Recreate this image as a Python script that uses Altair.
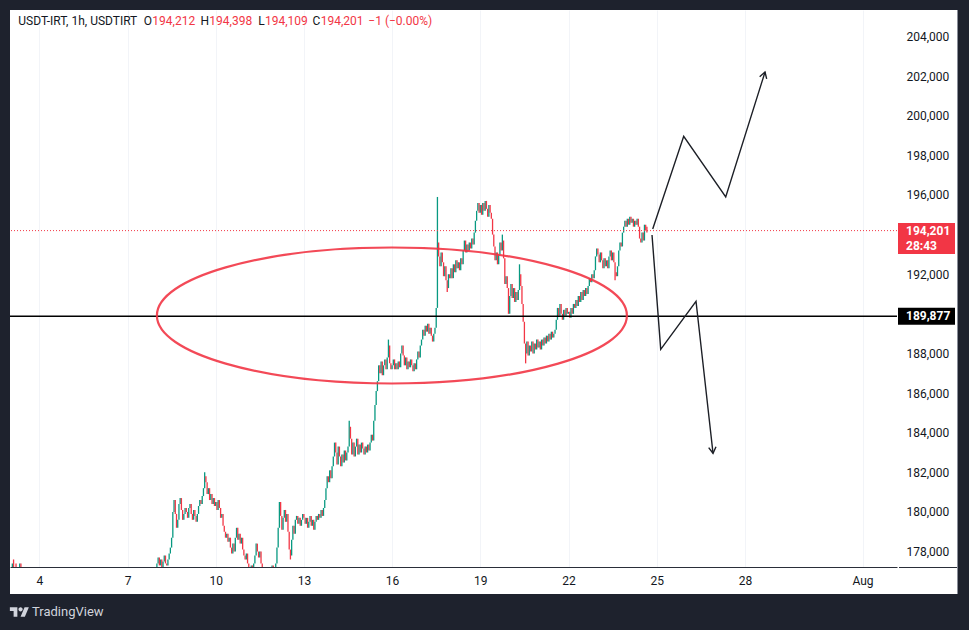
import altair as alt
import pandas as pd

# ---------------------------------------------------------------------------
# USDT/IRT hourly candles. Closes are in hundreds of rial; each candle opens at
# the previous close. Extra wick extremes are listed separately.
# ---------------------------------------------------------------------------
jul03 = [1765, 1766, 1774, 1767, 1763, 1760, 1764, 1761, 1774, 1766]
jul03_first_open = 1766

jul08 = [1774, 1777, 1773, 1776, 1772, 1775, 1778, 1774, 1773, 1776, 1779, 1782,
         1787, 1800, 1806, 1799, 1792, 1796, 1804, 1807, 1801, 1796, 1799, 1802]
jul09 = [1800, 1797, 1802, 1804, 1799, 1796, 1801, 1798, 1795, 1799, 1803, 1806,
         1804, 1808, 1812, 1818, 1815, 1809, 1812, 1806, 1809, 1804, 1807, 1803]
jul10 = [1805, 1801, 1806, 1802, 1797, 1799, 1793, 1790, 1787, 1789, 1785, 1787,
         1782, 1779, 1784, 1780, 1787, 1792, 1786, 1789, 1784, 1787, 1781, 1778]
jul11 = [1776, 1779, 1774, 1772, 1769, 1773, 1770, 1774, 1778, 1784, 1780, 1777,
         1780, 1774, 1770, 1766, 1764, 1767, 1765, 1769, 1772, 1768, 1773, 1770]
jul12 = [1768, 1774, 1782, 1792, 1805, 1798, 1791, 1797, 1801, 1795, 1799, 1790,
         1781, 1778, 1786, 1793, 1789, 1796, 1798, 1794, 1797, 1793, 1796, 1799]
jul13 = [1797, 1794, 1797, 1792, 1795, 1798, 1793, 1796, 1791, 1795, 1798, 1796,
         1799, 1797, 1801, 1798, 1802, 1806, 1812, 1818, 1815, 1821, 1817, 1823]
jul14 = [1828, 1835, 1830, 1824, 1833, 1828, 1823, 1829, 1825, 1831, 1826, 1830,
         1833, 1843, 1837, 1829, 1835, 1828, 1833, 1837, 1829, 1834, 1830, 1835]
jul15 = [1832, 1829, 1833, 1830, 1834, 1831, 1835, 1839, 1836, 1846, 1854, 1861,
         1866, 1874, 1870, 1876, 1869, 1874, 1877, 1872, 1878, 1884, 1875, 1872]
jul16 = [1874, 1877, 1872, 1875, 1872, 1876, 1873, 1880, 1884, 1879, 1874, 1878,
         1872, 1876, 1873, 1877, 1874, 1871, 1875, 1872, 1877, 1881, 1878, 1884]
jul17 = [1887, 1892, 1889, 1894, 1891, 1895, 1890, 1893, 1889, 1886, 1890, 1893,
         1903, 1936, 1929, 1924, 1931, 1926, 1919, 1924, 1917, 1913, 1920, 1918]
jul18 = [1923, 1918, 1925, 1921, 1927, 1923, 1926, 1922, 1928, 1925, 1932, 1937,
         1931, 1935, 1932, 1936, 1933, 1938, 1935, 1941, 1947, 1952, 1956, 1951]
jul19 = [1955, 1950, 1956, 1952, 1957, 1953, 1949, 1955, 1951, 1948, 1940, 1934,
         1927, 1931, 1925, 1930, 1936, 1932, 1937, 1928, 1915, 1919, 1913, 1900]
jul20 = [1909, 1915, 1908, 1913, 1906, 1911, 1907, 1912, 1920, 1914, 1905, 1896,
         1885, 1880, 1886, 1879, 1884, 1881, 1886, 1880, 1885, 1882, 1887, 1883]
jul21 = [1886, 1882, 1887, 1884, 1888, 1885, 1889, 1886, 1890, 1887, 1891, 1888,
         1890, 1892, 1897, 1903, 1899, 1905, 1900, 1897, 1902, 1899, 1903, 1900]
jul22 = [1901, 1898, 1903, 1900, 1905, 1903, 1907, 1904, 1909, 1906, 1911, 1907,
         1912, 1909, 1913, 1910, 1914, 1918, 1916, 1920, 1918, 1922, 1929, 1933]
jul23 = [1930, 1926, 1931, 1927, 1923, 1928, 1924, 1927, 1923, 1929, 1932, 1927,
         1931, 1926, 1921, 1919, 1924, 1932, 1936, 1934, 1941, 1944, 1947, 1944]
jul24 = [1948, 1945, 1949, 1946, 1948, 1944, 1947, 1945, 1948, 1944, 1938, 1936,
         1941, 1937, 1945, 1942.12]
main_first_open = 1771

wick_high = {
    "2024-07-03 03:00": 1776, "2024-07-03 05:00": 1774,
    "2024-07-09 15:00": 1820, "2024-07-14 13:00": 1846,
    "2024-07-15 21:00": 1887, "2024-07-17 13:00": 1959,
    "2024-07-19 18:00": 1940, "2024-07-20 08:00": 1925,
}
wick_low = {
    "2024-07-12 13:00": 1776, "2024-07-17 21:00": 1911,
    "2024-07-20 13:00": 1875, "2024-07-23 14:00": 1917,
}

# the live (still open) candle
last_candle = {"t": "2024-07-24T16:00:00", "open": 194212, "high": 194398,
               "low": 194109, "close": 194201}
countdown = "28:43"
symbol_text = "USDT-IRT, 1h, USDTIRT"
change_text = "\u22121 (\u22120.00%)"

level_price = 189877

price_ticks = [178000, 180000, 182000, 184000, 186000, 188000,
               192000, 196000, 198000, 200000, 202000, 204000]
date_ticks = [(7, 4), (7, 7), (7, 10), (7, 13), (7, 16), (7, 19),
              (7, 22), (7, 25), (7, 28), (8, 1)]

# projected scenario paths (time, price)
path_up_t = ["2024-07-24T20:44:00", "2024-07-25T22:02:00",
             "2024-07-27T08:20:00", "2024-07-28T16:25:00"]
path_up_p = [194283, 198962, 195898, 202208]
path_down_t = ["2024-07-24T20:10:00", "2024-07-25T03:16:00",
               "2024-07-26T08:05:00", "2024-07-26T21:58:00"]
path_down_p = [193980, 188210, 190633, 182960]

# marked consolidation zone (centre)
zone_t = "2024-07-15T23:50:00"
zone_p = 189916

# ---------------------------------------------------------------------------
GREEN = "#089981"
RED = "#f23645"
INK = "#131722"
FRAME = "#1e222d"
FONT = "Roboto"


def build(start, closes, first_open):
    rows = []
    prev = first_open
    for t, c in zip(pd.date_range(start, periods=len(closes), freq="h"), closes):
        key = t.strftime("%Y-%m-%d %H:%M")
        o = prev
        rows.append({
            "t": t.strftime("%Y-%m-%dT%H:%M:%S"),
            "open": o * 100, "close": c * 100,
            "high": max(o, c, wick_high.get(key, o)) * 100,
            "low": min(o, c, wick_low.get(key, o)) * 100,
        })
        prev = c
    return rows


main_closes = (jul08 + jul09 + jul10 + jul11 + jul12 + jul13 + jul14 + jul15 +
               jul16 + jul17 + jul18 + jul19 + jul20 + jul21 + jul22 + jul23 + jul24)
rows = build("2024-07-03 00:00", jul03, jul03_first_open)
rows += build("2024-07-08 00:00", main_closes, main_first_open)
rows.append(dict(last_candle))
candles = pd.DataFrame(rows)
candles["dir"] = ["up" if c >= o else "down" for o, c in zip(candles["open"], candles["close"])]

X_SCALE = alt.Scale(domain=[
    alt.DateTime(year=2024, month=7, date=3, hours=0, minutes=5),
    alt.DateTime(year=2024, month=8, date=2, hours=4, minutes=9),
])
Y_SCALE = alt.Scale(domain=[177220, 205338], nice=False, zero=False)

X_AXIS = alt.Axis(
    values=[alt.DateTime(year=2024, month=m, date=d) for m, d in date_ticks],
    labelExpr="date(datum.value) == 1 ? timeFormat(datum.value, '%b') : '' + date(datum.value)",
    title=None, ticks=False, labelPadding=8, labelFont=FONT, labelFontSize=12,
    labelColor=INK, domainColor="#2a2e39", domainWidth=1, grid=True,
    gridColor="#f2f4f8", labelOverlap=False, labelFlush=False,
)
Y_AXIS = alt.Axis(
    orient="right", values=price_ticks, format=",d", title=None, ticks=False,
    labelPadding=9, labelAlign="left", labelBaseline="middle", labelFont=FONT,
    labelFontSize=12, labelColor=INK, domain=False, grid=False,
    labelOverlap=False, labelFlush=False,
)


def X(field):
    return alt.X(field, type="temporal", scale=X_SCALE, axis=X_AXIS)


def Y(field):
    return alt.Y(field, type="quantitative", scale=Y_SCALE, axis=Y_AXIS)


one = alt.Data(values=[{}])

candle_layer = alt.Chart(candles).mark_rule(strokeWidth=1.3, clip=True).encode(
    x=X("t"),
    y=Y("low"),
    y2="high:Q",
    color=alt.Color("dir:N", scale=alt.Scale(domain=["up", "down"], range=[GREEN, RED]),
                    legend=None),
)

level_df = pd.DataFrame({"p": [level_price], "label": [f"{level_price:,}"]})
last_df = pd.DataFrame({"p": [last_candle["close"]], "label": [f"{last_candle['close']:,}"]})

level_line = alt.Chart(level_df).mark_rule(color="#000000", strokeWidth=1.5).encode(y=Y("p"))
last_line = alt.Chart(last_df).mark_rule(color=RED, strokeWidth=1, strokeDash=[1, 2]).encode(y=Y("p"))

# ellipse outline as a custom symbol (cubic Bezier approximation)
k = 0.5523
r = 0.2894
ellipse_path = (
    f"M -1 0 C -1 {-k*r:.4f} {-k:.4f} {-r:.4f} 0 {-r:.4f} "
    f"C {k:.4f} {-r:.4f} 1 {-k*r:.4f} 1 0 "
    f"C 1 {k*r:.4f} {k:.4f} {r:.4f} 0 {r:.4f} "
    f"C {-k:.4f} {r:.4f} -1 {k*r:.4f} -1 0 Z"
)
zone_df = pd.DataFrame({"t": [zone_t], "p": [zone_p]})
zone = alt.Chart(zone_df).mark_point(
    shape=ellipse_path, size=470 ** 2, filled=False, stroke=RED, strokeWidth=2.2,
    opacity=0.9, clip=False,
).encode(x=X("t"), y=Y("p"))

paths_df = pd.DataFrame({
    "path": ["up"] * len(path_up_t) + ["down"] * len(path_down_t),
    "i": list(range(len(path_up_t))) + list(range(len(path_down_t))),
    "t": path_up_t + path_down_t,
    "p": path_up_p + path_down_p,
})
paths = alt.Chart(paths_df).mark_line(color="#1c1f26", strokeWidth=1.4, clip=False).encode(
    x=X("t"), y=Y("p"), detail="path:N", order="i:Q",
)

head_shape = "M -0.6 1 L 0 0 L 0.6 1"
head_up = alt.Chart(pd.DataFrame({"t": [path_up_t[-1]], "p": [path_up_p[-1]]})).mark_point(
    shape=head_shape, size=150, filled=False, stroke="#1c1f26", strokeWidth=1.4,
    opacity=1, angle=17.5,
).encode(x=X("t"), y=Y("p"))
head_down = alt.Chart(pd.DataFrame({"t": [path_down_t[-1]], "p": [path_down_p[-1]]})).mark_point(
    shape=head_shape, size=150, filled=False, stroke="#1c1f26", strokeWidth=1.4,
    opacity=1, angle=173.6,
).encode(x=X("t"), y=Y("p"))

# price-scale badges
level_box = alt.Chart(level_df).mark_rule(color="#000000", strokeWidth=17, strokeCap="butt",
                                          clip=False).encode(
    x=alt.value(888), x2=alt.value(945), y=Y("p"))
last_box = alt.Chart(last_df).mark_rule(color=RED, strokeWidth=31, strokeCap="butt",
                                        yOffset=8, clip=False).encode(
    x=alt.value(888), x2=alt.value(945), y=Y("p"))

level_text = alt.Chart(level_df).mark_text(
    align="left", baseline="middle", font=FONT, fontSize=12, fontWeight="bold",
    color="#ffffff", clip=False,
).encode(x=alt.value(896), y=Y("p"), text="label:N")
last_text = alt.Chart(last_df).mark_text(
    align="left", baseline="middle", font=FONT, fontSize=12, fontWeight="bold",
    color="#ffffff", clip=False,
).encode(x=alt.value(896), y=Y("p"), text="label:N")
count_text = alt.Chart(last_df).mark_text(
    text=countdown, align="left", baseline="middle", font=FONT, fontSize=12,
    fontWeight="bold", color="#ffffff", dy=15, clip=False,
).encode(x=alt.value(896), y=Y("p"))

bottom_ext = alt.Chart(one).mark_rule(color="#2a2e39", strokeWidth=1, clip=False).encode(
    x=alt.value(889), x2=alt.value(948), y=alt.value(557.5))


def strip(x, x2, y, y2):
    return alt.Chart(one).mark_rect(color=FRAME, clip=False).encode(
        x=alt.value(x), x2=alt.value(x2), y=alt.value(y), y2=alt.value(y2))


frame = [
    strip(-10, 959, -10, 0),
    strip(-10, 0, -10, 620),
    strip(948, 959, -10, 620),
    strip(-10, 959, 584, 620),
]
panel_edge = alt.Chart(one).mark_rule(color="#8a8e99", strokeWidth=1, clip=False).encode(
    x=alt.value(947.5), y=alt.value(0), y2=alt.value(584))


def label(text, x, y, color, size=12, weight="normal", align="left"):
    return alt.Chart(one).mark_text(
        text=text, align=align, baseline="middle", font=FONT, fontSize=size,
        fontWeight=weight, color=color, clip=False,
    ).encode(x=alt.value(x), y=alt.value(y))


o, h, l, c = (last_candle[key] for key in ("open", "high", "low", "close"))
header = [
    label(symbol_text, 8.3, 11, INK),
    label("O", 142.0, 11, INK, align="right"), label(f"{o:,}", 142.3, 11, RED),
    label("H", 199.0, 11, INK, align="right"), label(f"{h:,}", 199.3, 11, RED),
    label("L", 254.7, 11, INK, align="right"), label(f"{l:,}", 255, 11, RED),
    label("C", 310.4, 11, INK, align="right"), label(f"{c:,}", 310.7, 11, RED),
    label(change_text, 358.3, 11, RED),
]

# TradingView mark: block "T", dot and slanted bar
logo_path = (
    "M -0.222 0.5 L -0.611 0.5 L -0.611 -0.111 L -1 -0.111 L -1 -0.5 L -0.222 -0.5 Z "
    "M 0.556 0.5 L 0.111 0.5 L 0.528 -0.5 L 0.972 -0.5 Z "
    "M 0.111 -0.5 C 0.2337 -0.5 0.333 -0.4007 0.333 -0.278 "
    "C 0.333 -0.1553 0.2337 -0.056 0.111 -0.056 "
    "C -0.0117 -0.056 -0.111 -0.1553 -0.111 -0.278 "
    "C -0.111 -0.4007 -0.0117 -0.5 0.111 -0.5 Z"
)
logo = alt.Chart(one).mark_point(
    shape=logo_path, size=371, filled=True, color="#d1d4dc", opacity=1, strokeWidth=0,
    clip=False,
).encode(x=alt.value(9.5), y=alt.value(602))
brand = label("TradingView", 22, 602, "#d1d4dc", size=13)

chart = alt.layer(
    candle_layer, last_line, level_line, zone, paths, head_up, head_down,
    level_box, last_box, level_text, last_text, count_text, bottom_ext,
    *frame, panel_edge, *header, logo, brand,
).properties(
    width=887, height=557,
    autosize=alt.AutoSizeParams(type="none"),
    padding={"left": 10, "top": 10, "right": 72, "bottom": 63},
    background="#ffffff",
).configure_view(stroke=None)

chart.save("out.html", embed_options={"renderer": "svg", "actions": False})
